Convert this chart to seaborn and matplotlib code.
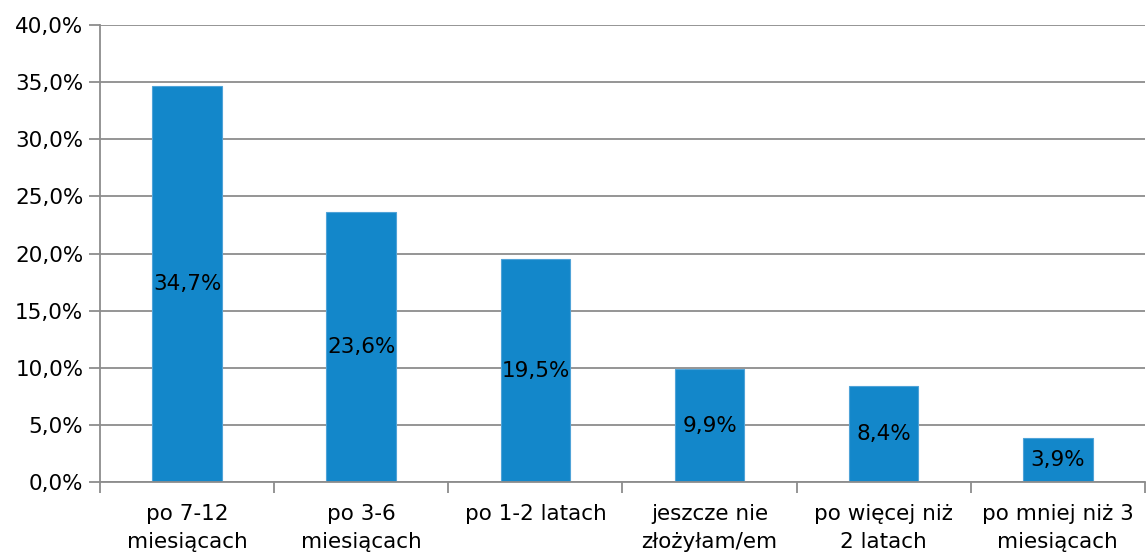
import matplotlib
matplotlib.use("Agg")
import matplotlib.pyplot as plt
import seaborn as sns
import pandas as pd
import numpy as np
from matplotlib.ticker import FuncFormatter, FixedLocator

categories = ["po 7-12\nmiesiącach", "po 3-6\nmiesiącach", "po 1-2 latach",
              "jeszcze nie\nzłożyłam/em", "po więcej niż\n2 latach",
              "po mniej niż 3\nmiesiącach"]
values = [34.7, 23.6, 19.5, 9.9, 8.4, 3.9]

BAR_COLOR = "#1387CA"
GRID_COLOR = "#8C8C8C"

sns.set_style("white")
plt.rcParams["font.family"] = ["DejaVu Sans"]
plt.rcParams["text.color"] = "black"
plt.rcParams["xtick.color"] = GRID_COLOR
plt.rcParams["ytick.color"] = GRID_COLOR
plt.rcParams["xtick.labelcolor"] = "black"
plt.rcParams["ytick.labelcolor"] = "black"

df = pd.DataFrame({"cat": categories, "val": values})

fig = plt.figure(figsize=(11.46, 5.58), dpi=100)
ax = fig.add_axes([0.0873, 0.136, 0.9117, 0.819])

sns.barplot(data=df, x="cat", y="val", color=BAR_COLOR, width=0.4,
            saturation=1, edgecolor="#4FA3D8", linewidth=0.8, ax=ax)

# labels in the middle of each bar
ax.bar_label(ax.containers[0], labels=[f"{v:.1f}%".replace(".", ",") for v in values],
             label_type="center", fontsize=15.5, color="black")

ax.set_ylim(0, 40)
ax.set_xlim(-0.5, len(categories) - 0.5)
ax.set_yticks(np.arange(0, 41, 5))
ax.yaxis.set_major_formatter(FuncFormatter(lambda v, _: f"{v:.1f}%".replace(".", ",")))
ax.yaxis.grid(True, color=GRID_COLOR, linewidth=1.3)
ax.set_axisbelow(True)

# x ticks between categories, labels centered
ax.set_xticks(np.arange(len(categories)))
ax.set_xticklabels(categories, fontsize=15.5, linespacing=1.45)
ax.tick_params(axis="x", which="major", bottom=True, length=0, pad=16)
ax.xaxis.set_minor_locator(FixedLocator(np.arange(-0.5, len(categories), 1)))
ax.tick_params(axis="x", which="minor", bottom=True, length=8, width=1.3, color=GRID_COLOR)
ax.tick_params(axis="y", left=True, length=8, width=1.3, color=GRID_COLOR,
               labelsize=15.5, labelcolor="black", pad=4)

ax.set_xlabel("")
ax.set_ylabel("")

for side in ["top", "right"]:
    ax.spines[side].set_visible(False)
for side in ["left", "bottom"]:
    ax.spines[side].set_color(GRID_COLOR)
    ax.spines[side].set_linewidth(1.3)

plt.savefig("out.png", dpi=100)
plt.close()
